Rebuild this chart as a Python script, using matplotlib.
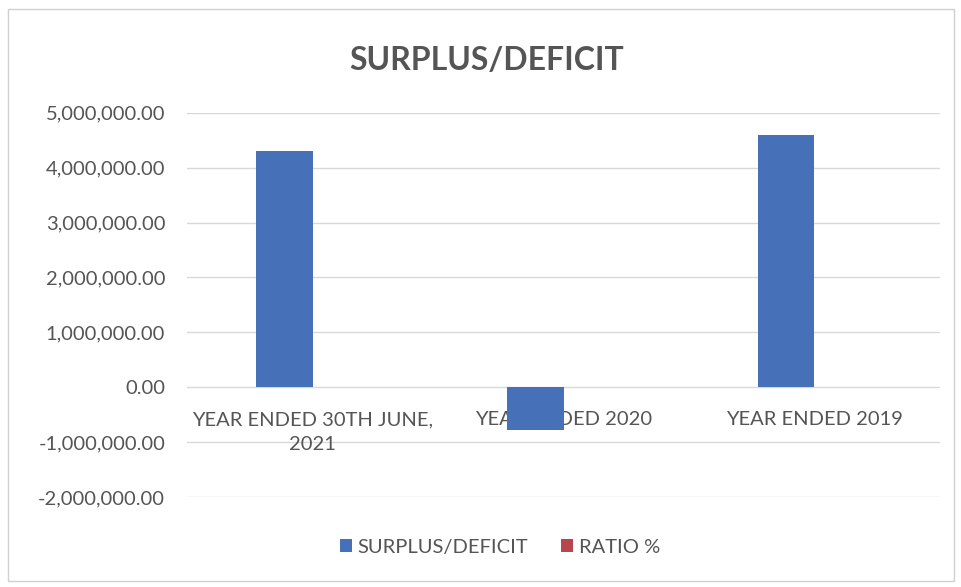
# 黒字/赤字の棒グラフ

import numpy as np
import matplotlib.pyplot as plt
from matplotlib.patches import Rectangle
from matplotlib.ticker import FuncFormatter


CATEGORIES = ["YEAR ENDED 30TH JUNE,\n2021", "YEAR ENDED 2020", "YEAR ENDED 2019"]
SURPLUS = [4310000.0, -780000.0, 4600000.0]
RATIO = [14.5, -2.6, 16.8]          # 比率(%)、金額軸では見えない大きさ
Y_TICKS = [-2000000, -1000000, 0, 1000000, 2000000, 3000000, 4000000, 5000000]

TEXT_COLOR = "#555555"
BLUE = "#4670b8"
RED = "#b8464e"
FILE_NAME = "out.png"


def main():
    plt.rcParams["font.family"] = ["Lato", "DejaVu Sans"]

    fig = plt.figure(figsize=(9.61, 5.87), dpi=100)
    ax = fig.add_axes([0.195, 0.153, 0.783, 0.655])

    x = np.arange(len(CATEGORIES))
    width = 0.225
    ax.bar(x - width / 2, SURPLUS, width, color=BLUE, label="SURPLUS/DEFICIT", zorder=3)
    ax.bar(x + width / 2, RATIO, width, color=RED, label="RATIO %", zorder=3)

    ax.set_xlim(-0.5, len(CATEGORIES) - 0.5)
    ax.set_ylim(Y_TICKS[0], Y_TICKS[-1])
    ax.set_yticks(Y_TICKS)
    ax.yaxis.set_major_formatter(FuncFormatter(lambda v, p: f"{v:,.2f}"))
    ax.grid(axis="y", color="#d9d9d9", linewidth=1.0, zorder=0)
    ax.tick_params(axis="y", length=0, pad=16, labelsize=14.5, labelcolor=TEXT_COLOR)
    ax.set_xticks([])
    for s in ax.spines.values():
        s.set_visible(False)

    # カテゴリ名は0の線のすぐ下、棒の後ろに置く
    for xi, name in zip(x, CATEGORIES):
        ax.annotate(name, (xi, 0), xytext=(0, -17), textcoords="offset points",
                    ha="center", va="top", fontsize=14.5, color=TEXT_COLOR,
                    linespacing=1.55, zorder=2)

    fig.text(0.506, 0.897, "SURPLUS/DEFICIT", ha="center", va="center",
             fontsize=23, fontweight="bold", color=TEXT_COLOR)

    fig.legend(loc="center", bbox_to_anchor=(0.52, 0.068), ncol=2, frameon=False,
               fontsize=14.5, labelcolor=TEXT_COLOR, handlelength=0.6,
               handleheight=0.6, handletextpad=0.3, columnspacing=1.6)

    # グラフ領域の枠
    fig.patches.append(Rectangle((0.008, 0.01), 0.985, 0.975, transform=fig.transFigure,
                                 fill=False, edgecolor="#d0d0d0", linewidth=1.0))

    fig.savefig(FILE_NAME, dpi=100)


if __name__ == "__main__":
    main()
